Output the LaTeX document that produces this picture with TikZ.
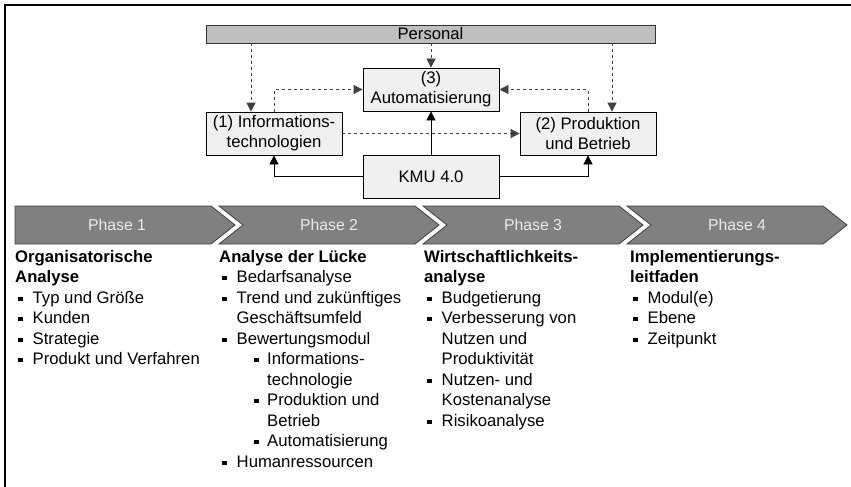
\documentclass[tikz,border=0pt]{standalone}
\usepackage{fontspec}
\setmainfont{Liberation Sans}
\usetikzlibrary{arrows.meta}

% list helpers: bullet item, continuation line, sub-item
\newcommand\bsq{\rule[2.3pt]{4.4pt}{4.4pt}}
\newcommand\bitem[1]{\makebox[17.5pt][l]{\hspace{3pt}\bsq}#1}
\newcommand\bcont[1]{\hspace*{17.5pt}#1}
\newcommand\sitem[1]{\hspace*{35pt}\makebox[13pt][l]{\bsq}#1}
\newcommand\scont[1]{\hspace*{48pt}#1}
% fixed first-line height so the top anchor sits 13pt above the first baseline
\newcommand\firstline{\rule{0pt}{13pt}}

\begin{document}
\begin{tikzpicture}[x=1pt,y=-1pt,
  box/.style={draw=black,line width=0.8pt,fill=black!6,align=center,
    minimum width=136pt,minimum height=43pt,inner sep=0pt,
    font=\fontsize{16.7}{20}\selectfont},
  bar/.style={draw=black!80,line width=0.8pt,fill=black!25,
    minimum width=449pt,minimum height=18pt,inner sep=0pt,
    font=\fontsize{16.7}{20}\selectfont},
  dlink/.style={draw=black!75,line width=0.8pt,dash pattern=on 3pt off 3pt,
    -{Triangle[length=9pt,width=9pt]}},
  slink/.style={draw=black,line width=0.8pt,-{Triangle[length=9pt,width=9pt]}},
  chevron/.style={fill=black!50,draw=black!75,line width=0.8pt},
  phaselabel/.style={text=black!8,font=\fontsize{15.8}{18}\selectfont,inner sep=0pt},
  col/.style={align=left,inner sep=0pt,anchor=north west,
    font=\fontsize{16.7}{20.5}\selectfont}]
\useasboundingbox (0,0) rectangle (851,487);

% frame
\draw[line width=1.5pt] (5,487) -- (5,5) -- (851,5);

% KMU 4.0 model
\node[bar] (pers) at (430.5,34) {Personal};
\node[box] (auto) at (431,89.5) {(3)\\Automatisierung};
\node[box] (inf) at (274,133.5) {(1) Informations-\\technologien};
\node[box] (prod) at (588,133.5) {(2) Produktion\\und Betrieb};
\node[box] (kmu) at (431,176.5) {KMU 4.0};

\draw[dlink] ([xshift=-23pt]inf.north |- pers.south) -- ([xshift=-23pt]inf.north);
\draw[dlink] (pers.south -| auto.north) -- (auto.north);
\draw[dlink] ([xshift=24pt]prod.north |- pers.south) -- ([xshift=24pt]prod.north);
\draw[dlink] (inf.north) |- (auto.west);
\draw[dlink] (prod.north) |- (auto.east);
\draw[dlink] (inf.east) -- (prod.west);
\draw[slink] (kmu.north) -- (auto.south);
\draw[slink] (kmu.west) -| (inf.south);
\draw[slink] (kmu.east) -| (prod.south);

% phase chevrons
\path[chevron] (15,206) -- (211,206) -- (235,225) -- (211,244) -- (15,244) -- cycle;
\foreach \x in {219,423,627}{
  \path[chevron] (\x,206) -- (\x+196,206) -- (\x+220,225) -- (\x+196,244)
    -- (\x,244) -- (\x+24,225) -- cycle;
}
\node[phaselabel] (p1) at (117,225) {Phase 1};
\node[phaselabel] (p2) at (329,225) {Phase 2};
\node[phaselabel] (p3) at (533,225) {Phase 3};
\node[phaselabel] (p4) at (737,225) {Phase 4};

% phase contents
\node[col] (c1) at (15,249) {\firstline\textbf{Organisatorische}\\\textbf{Analyse}\\
  \bitem{Typ und Größe}\\\bitem{Kunden}\\\bitem{Strategie}\\
  \bitem{Produkt und Verfahren}};
\node[col] (c2) at (219,249) {\firstline\textbf{Analyse der Lücke}\\
  \bitem{Bedarfsanalyse}\\\bitem{Trend und zukünftiges}\\
  \bcont{Geschäftsumfeld}\\\bitem{Bewertungsmodul}\\
  \sitem{Informations-}\\\scont{technologie}\\
  \sitem{Produktion und}\\\scont{Betrieb}\\
  \sitem{Automatisierung}\\\bitem{Humanressourcen}};
\node[col] (c3) at (424,249) {\firstline\textbf{Wirtschaftlichkeits-}\\\textbf{analyse}\\
  \bitem{Budgetierung}\\\bitem{Verbesserung von}\\\bcont{Nutzen und}\\
  \bcont{Produktivität}\\\bitem{Nutzen- und}\\\bcont{Kostenanalyse}\\
  \bitem{Risikoanalyse}};
\node[col] (c4) at (630,249) {\firstline\textbf{Implementierungs-}\\\textbf{leitfaden}\\
  \bitem{Modul(e)}\\\bitem{Ebene}\\\bitem{Zeitpunkt}};
\end{tikzpicture}
\end{document}
